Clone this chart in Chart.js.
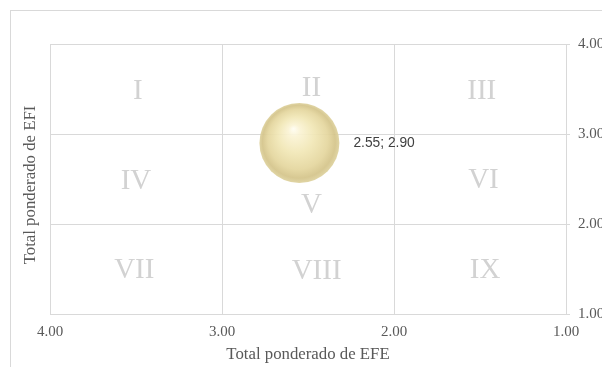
<!DOCTYPE html>
<html>
<head>
<meta charset="utf-8">
<script src="https://cdn.jsdelivr.net/npm/chart.js@4/dist/chart.umd.min.js"></script>
<style>
  html, body { margin: 0; padding: 0; background: #ffffff; overflow: hidden; }
  #wrap { position: relative; width: 602px; height: 367px; }
  #frame { position: absolute; left: 10px; top: 10px; width: 700px; height: 500px;
           border-left: 1px solid #d9d9d9; border-top: 1px solid #d9d9d9; }
  canvas { position: absolute; left: 0; top: 0; }
</style>
</head>
<body>
<div id="wrap">
  <div id="frame"></div>
  <canvas id="chart" width="602" height="367"></canvas>
</div>
<script>
// Matriz interna-externa: total ponderado EFE (x, invertido) frente a EFI (y)
const efeScores = [2.55];
const efiScores = [2.90];
const bubbleRadius = [40];

const axisTicks = [1, 2, 3, 4];
const xTitle = 'Total ponderado de EFE';
const yTitle = 'Total ponderado de EFI';

// Cuadrantes I–IX y su posición en unidades de los ejes
const zoneLabels = ['I', 'II', 'III', 'IV', 'V', 'VI', 'VII', 'VIII', 'IX'];
const zoneX = [3.49, 2.48, 1.49, 3.50, 2.48, 1.48, 3.51, 2.45, 1.47];
const zoneY = [3.47, 3.51, 3.47, 2.47, 2.21, 2.48, 1.49, 1.47, 1.49];

const serif = '"Liberation Serif", "Times New Roman", serif';
const gridColor = '#d9d9d9';
const textColor = '#595959';

const points = efeScores.map((x, i) => ({ x: x, y: efiScores[i], r: bubbleRadius[i] }));

// Esfera con brillo: degradado radial calculado sobre la posición del punto
function sphereFill(ctx) {
  const chart = ctx.chart;
  const raw = ctx.raw;
  const sx = chart.scales && chart.scales.x;
  const sy = chart.scales && chart.scales.y;
  if (!raw || !sx || !sy) return '#f1e6b3';
  const cx = sx.getPixelForValue(raw.x);
  const cy = sy.getPixelForValue(raw.y);
  const r = raw.r;
  if (!isFinite(cx) || !isFinite(cy)) return '#f1e6b3';
  const g = chart.ctx.createRadialGradient(cx - 0.15 * r, cy - 0.36 * r, 0, cx, cy, r);
  g.addColorStop(0.00, 'rgba(255,253,242,0.93)');
  g.addColorStop(0.15, 'rgba(250,243,212,0.93)');
  g.addColorStop(0.45, 'rgba(241,231,182,0.93)');
  g.addColorStop(0.75, 'rgba(228,214,158,0.93)');
  g.addColorStop(0.91, 'rgba(212,196,138,0.93)');
  g.addColorStop(1.00, 'rgba(222,210,158,0.93)');
  return g;
}

const zonePlugin = {
  id: 'zones',
  beforeDatasetsDraw(chart) {
    const { ctx, scales } = chart;
    ctx.save();
    ctx.font = '29px ' + serif;
    ctx.fillStyle = '#d2d2d2';
    ctx.textAlign = 'center';
    ctx.textBaseline = 'middle';
    zoneLabels.forEach((t, i) => {
      ctx.fillText(t, scales.x.getPixelForValue(zoneX[i]), scales.y.getPixelForValue(zoneY[i]));
    });
    ctx.restore();
  }
};

// Título del eje vertical, a la izquierda del área de trazado
const sideTitlePlugin = {
  id: 'sideTitle',
  afterDraw(chart) {
    const { ctx, chartArea } = chart;
    ctx.save();
    ctx.translate(chartArea.left - 19, (chartArea.top + chartArea.bottom) / 2 + 6);
    ctx.rotate(-Math.PI / 2);
    ctx.font = '16.8px ' + serif;
    ctx.fillStyle = textColor;
    ctx.textAlign = 'center';
    ctx.textBaseline = 'middle';
    ctx.fillText(yTitle, 0, 0);
    ctx.restore();
  }
};

const valueLabelPlugin = {
  id: 'valueLabels',
  afterDatasetsDraw(chart) {
    const { ctx } = chart;
    const meta = chart.getDatasetMeta(0);
    ctx.save();
    ctx.font = '13.8px "Liberation Sans", Arial, sans-serif';
    ctx.fillStyle = '#404040';
    ctx.textAlign = 'left';
    ctx.textBaseline = 'middle';
    meta.data.forEach((el, i) => {
      const p = points[i];
      ctx.fillText(p.x.toFixed(2) + '; ' + p.y.toFixed(2), el.x + p.r + 14, el.y);
    });
    ctx.restore();
  }
};

new Chart(document.getElementById('chart'), {
  type: 'bubble',
  data: {
    datasets: [{
      data: points,
      backgroundColor: sphereFill,
      hoverBackgroundColor: sphereFill,
      borderWidth: 0,
      hoverBorderWidth: 0
    }]
  },
  options: {
    responsive: false,
    animation: false,
    events: [],
    layout: { autoPadding: false, padding: { left: 50, top: 44, right: 0, bottom: 0 } },
    plugins: { legend: { display: false }, tooltip: { enabled: false } },
    scales: {
      x: {
        type: 'linear',
        position: 'bottom',
        reverse: true,
        min: 1, max: 4,
        afterBuildTicks: (s) => { s.ticks = axisTicks.map(v => ({ value: v })); },
        afterFit: (s) => { s.height = 53; },
        grid: { color: gridColor, lineWidth: 1, drawTicks: false },
        border: { color: gridColor, width: 1 },
        ticks: {
          padding: 9,
          color: textColor,
          font: { family: serif, size: 15 },
          callback: (v) => Number(v).toFixed(2)
        },
        title: {
          display: true,
          text: xTitle,
          color: textColor,
          font: { family: serif, size: 16.8 },
          padding: { top: 0, bottom: 2 }
        }
      },
      y: {
        type: 'linear',
        position: 'right',
        min: 1, max: 4,
        afterBuildTicks: (s) => { s.ticks = axisTicks.map(v => ({ value: v })); },
        afterFit: (s) => { s.width = 36; },
        grid: { color: gridColor, lineWidth: 1, drawTicks: true, tickLength: 4 },
        border: { color: gridColor, width: 1 },
        ticks: {
          padding: 8,
          color: textColor,
          font: { family: serif, size: 15 },
          callback: (v) => Number(v).toFixed(2)
        }
      }
    }
  },
  plugins: [zonePlugin, valueLabelPlugin, sideTitlePlugin]
});
</script>
</body>
</html>
